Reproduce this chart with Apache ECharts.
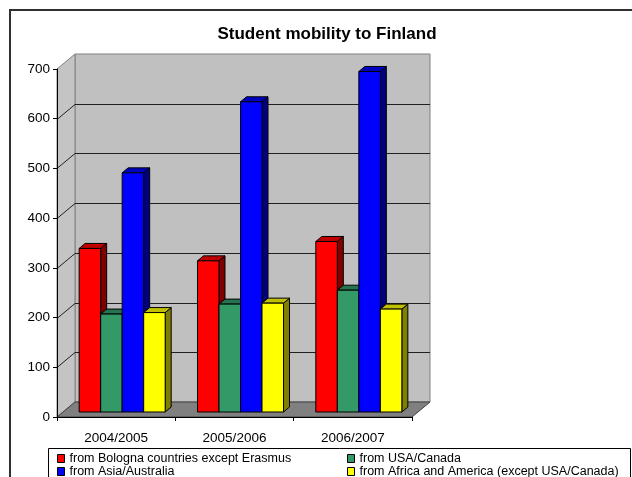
<!DOCTYPE html>
<html>
<head>
<meta charset="utf-8">
<script src="https://cdn.jsdelivr.net/npm/echarts@6/dist/echarts.min.js"></script>
<style>
  html, body { margin: 0; padding: 0; background: #fff; }
  #chart { width: 632px; height: 477px; }
</style>
</head>
<body>
<div id="chart"></div>
<script>
// Academic years on the category axis
const categories = ['2004/2005', '2005/2006', '2006/2007'];

// Incoming students per origin group
const bologna = [329, 304, 343];
const usaCanada = [197, 217, 245];
const asiaAustralia = [481, 624, 685];
const africaAmerica = [200, 219, 207];

// Value axis ticks
const yTicks = [0, 100, 200, 300, 400, 500, 600, 700];

const seriesNames = [
  'from Bologna countries except Erasmus',
  'from USA/Canada',
  'from Asia/Australia',
  'from Africa and America (except USA/Canada)'
];
const seriesData = [bologna, usaCanada, asiaAustralia, africaAmerica];

// front / top / side face colours for each column
const palettes = [
  { front: '#FF0000', top: '#C00000', side: '#800000' },
  { front: '#339966', top: '#267350', side: '#1A4D33' },
  { front: '#0000FF', top: '#0000C0', side: '#000080' },
  { front: '#FFFF00', top: '#C0C000', side: '#808000' }
];

const FONT = '"Liberation Sans", Arial, sans-serif';
const DEPTH_X = 18, DEPTH_Y = -15;          // full depth of the 3D box
const BAR_DX = DEPTH_X / 3, BAR_DY = DEPTH_Y / 3; // columns sit in the middle third
const BAR_SHARE = 0.727;                    // part of a category band covered by the 4 columns

const chart = echarts.init(document.getElementById('chart'), null, { renderer: 'canvas' });

// Walls, floor and gridlines of the 3D box
function renderWalls(params, api) {
  const cs = params.coordSys;
  const x0 = cs.x, x1 = cs.x + cs.width;
  const yTop = api.coord([0, yTicks[yTicks.length - 1]])[1];
  const yBot = api.coord([0, 0])[1];
  const children = [];
  // back wall
  children.push({ type: 'polygon', shape: { points: [
    [x0 + DEPTH_X, yTop + DEPTH_Y], [x1 + DEPTH_X, yTop + DEPTH_Y],
    [x1 + DEPTH_X, yBot + DEPTH_Y], [x0 + DEPTH_X, yBot + DEPTH_Y]] },
    style: { fill: '#C0C0C0', stroke: '#808080', lineWidth: 1 } });
  // side wall
  children.push({ type: 'polygon', shape: { points: [
    [x0, yTop], [x0 + DEPTH_X, yTop + DEPTH_Y],
    [x0 + DEPTH_X, yBot + DEPTH_Y], [x0, yBot]] },
    style: { fill: '#C4C4C4', stroke: '#808080', lineWidth: 1 } });
  // floor
  children.push({ type: 'polygon', shape: { points: [
    [x0, yBot], [x1, yBot], [x1 + DEPTH_X, yBot + DEPTH_Y], [x0 + DEPTH_X, yBot + DEPTH_Y]] },
    style: { fill: '#808080', stroke: '#404040', lineWidth: 1 } });
  // gridlines
  yTicks.forEach(function (v, i) {
    if (i === 0 || i === yTicks.length - 1) return;
    const y = Math.round(api.coord([0, v])[1]) + 0.5;
    children.push({ type: 'polyline', shape: { points: [
      [x0, y], [x0 + DEPTH_X, y + DEPTH_Y], [x1 + DEPTH_X, y + DEPTH_Y]] },
      style: { fill: null, stroke: '#202020', lineWidth: 1 } });
  });
  return { type: 'group', children: children };
}

// One 3D column: front rectangle plus top and side faces
function makeBarRenderer(idx) {
  const pal = palettes[idx];
  return function (params, api) {
    const cat = api.value(0), val = api.value(1);
    const band = api.size([1, 0])[0];
    const base = api.coord([cat, 0]);
    const top = api.coord([cat, val]);
    const w = band * BAR_SHARE / 4;
    const xl = base[0] - 2 * w + idx * w + BAR_DX;
    const xr = xl + w;
    const yb = base[1] + BAR_DY;
    const yt = top[1] + BAR_DY;
    const edge = { stroke: '#000', lineWidth: 1, lineJoin: 'miter' };
    return { type: 'group', children: [
      { type: 'polygon', shape: { points: [[xr, yt], [xr + BAR_DX, yt + BAR_DY], [xr + BAR_DX, yb + BAR_DY], [xr, yb]] },
        style: Object.assign({ fill: pal.side }, edge) },
      { type: 'polygon', shape: { points: [[xl, yt], [xr, yt], [xr + BAR_DX, yt + BAR_DY], [xl + BAR_DX, yt + BAR_DY]] },
        style: Object.assign({ fill: pal.top }, edge) },
      { type: 'rect', shape: { x: xl, y: yt, width: w, height: yb - yt },
        style: Object.assign({ fill: pal.front }, edge) }
    ] };
  };
}

const barSeries = seriesNames.map(function (name, i) {
  return {
    name: name,
    type: 'custom',
    coordinateSystem: 'cartesian2d',
    renderItem: makeBarRenderer(i),
    itemStyle: { color: palettes[i].front },
    data: seriesData[i].map(function (v, c) { return [c, v]; }),
    encode: { x: 0, y: 1 },
    clip: false,
    silent: true,
    z: 3 + i
  };
});

const legendCommon = {
  orient: 'vertical',
  top: 452,
  height: 40,
  padding: 0,
  itemGap: 0,
  itemWidth: 7,
  itemHeight: 8,
  icon: 'rect',
  selectedMode: false,
  itemStyle: { borderColor: '#000', borderWidth: 1 },
  textStyle: { fontFamily: FONT, fontSize: 12.5, color: '#000', lineHeight: 11 }
};

const option = {
  animation: false,
  backgroundColor: '#fff',
  title: {
    text: 'Student mobility to Finland',
    left: 327,
    textAlign: 'center',
    top: 26,
    padding: 0,
    textStyle: { fontFamily: FONT, fontSize: 17, fontWeight: 'bold', color: '#000' }
  },
  legend: [
    Object.assign({ left: 57, data: [seriesNames[0], seriesNames[2]] }, legendCommon),
    Object.assign({ left: 347, data: [seriesNames[1], seriesNames[3]] }, legendCommon)
  ],
  grid: { left: 57, top: 69, width: 355, height: 348, containLabel: false },
  xAxis: {
    type: 'category',
    data: categories,
    boundaryGap: true,
    z: 10,
    axisLine: { lineStyle: { color: '#000', width: 1 } },
    axisTick: { show: true, length: 4, lineStyle: { color: '#000' } },
    axisLabel: { margin: 14, fontFamily: FONT, fontSize: 13.5, color: '#000' },
    splitLine: { show: false }
  },
  yAxis: {
    type: 'value',
    min: 0,
    max: 700,
    interval: 100,
    z: 10,
    axisLine: { show: true, lineStyle: { color: '#000', width: 1 } },
    axisTick: { show: true, length: 4, lineStyle: { color: '#000' } },
    axisLabel: { margin: 7, fontFamily: FONT, fontSize: 13.5, color: '#000' },
    splitLine: { show: false }
  },
  graphic: [
    { type: 'rect', shape: { x: 10, y: 10, width: 700, height: 600 },
      style: { fill: null, stroke: '#303030', lineWidth: 2 }, z: 100 },
    { type: 'rect', shape: { x: 48.5, y: 448.5, width: 582, height: 40 },
      style: { fill: null, stroke: '#000', lineWidth: 1 }, z: 100 }
  ],
  series: [{
    name: 'walls',
    type: 'custom',
    coordinateSystem: 'cartesian2d',
    renderItem: renderWalls,
    data: [[0, 0]],
    encode: { x: 0, y: 1 },
    clip: false,
    silent: true,
    z: 1
  }].concat(barSeries)
};

chart.setOption(option);
</script>
</body>
</html>
